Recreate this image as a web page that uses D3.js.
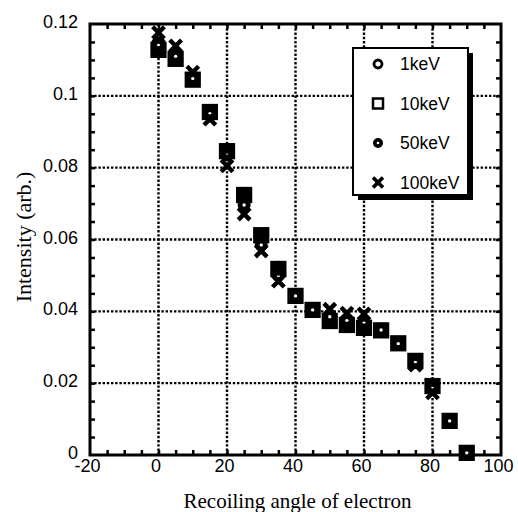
<!DOCTYPE html>
<html>
<head>
<meta charset="utf-8">
<script src="https://cdn.jsdelivr.net/npm/d3@7"></script>
<style>
  body { margin: 0; background: #fff; }
  .tick text { font-family: "Liberation Sans", Arial, sans-serif; font-size: 18px; fill: #000; }
  .title { font-family: "Liberation Serif", "Times New Roman", serif; fill: #000; }
  .leg { font-family: "Liberation Sans", Arial, sans-serif; font-size: 17.5px; fill: #000; }
</style>
</head>
<body>
<div id="chart"></div>
<script>
// recoil angle (deg)
const angles = [0, 5, 10, 15, 20, 25, 30, 35, 40, 45, 50, 55, 60, 65, 70, 75, 80, 85, 90];

// intensity per incident electron energy
const kev1   = [0.1145, 0.1110, 0.1050, 0.0955, 0.0843, 0.0722, 0.0610, 0.0520, 0.0443, 0.0404, 0.0385, 0.0372, 0.0365, 0.0348, 0.0311, 0.0262, 0.0192, 0.0095, 0.0006];
const kev10  = [0.1128, 0.1103, 0.1045, 0.0955, 0.0846, 0.0724, 0.0612, 0.0518, 0.0443, 0.0404, 0.0373, 0.0362, 0.0354, 0.0347, 0.0311, 0.0262, 0.0192, 0.0095, 0.0006];
const kev50  = [0.1140, 0.1110, 0.1048, 0.0950, 0.0835, 0.0696, 0.0585, 0.0500, 0.0443, 0.0404, 0.0385, 0.0375, 0.0370, 0.0348, 0.0310, 0.0258, 0.0185, 0.0095, 0.0006];
const kev100 = [0.1176, 0.1139, 0.1066, 0.0935, 0.0805, 0.0671, 0.0568, 0.0484, 0.0443, 0.0404, 0.0406, 0.0395, 0.0393, 0.0348, 0.0310, 0.0250, 0.0173, 0.0095, 0.0006];

const seriesNames = ["1keV", "10keV", "50keV", "100keV"];
const seriesShapes = ["circle", "square", "dotcircle", "cross"];

const xTicks = [-20, 0, 20, 40, 60, 80, 100];
const yTicks = [0, 0.02, 0.04, 0.06, 0.08, 0.1, 0.12];
const yTickLabels = ["0", "0.02", "0.04", "0.06", "0.08", "0.1", "0.12"];

const width = 518, height = 512;
const margin = {top: 24, right: 17, bottom: 57, left: 90};

const svg = d3.select("#chart").append("svg")
    .attr("width", width)
    .attr("height", height);

const x = d3.scaleLinear().domain([-20, 100]).range([margin.left, width - margin.right]);
const y = d3.scaleLinear().domain([0, 0.12]).range([height - margin.bottom, margin.top]);

//dotted grid at the inner major ticks
const grid = svg.append("g")
    .attr("stroke", "#000")
    .attr("stroke-width", 2.4)
    .attr("stroke-dasharray", "2.4,1.8");

grid.selectAll(".gx")
    .data(xTicks.slice(1, -1))
    .enter().append("line")
    .attr("x1", (d) => x(d)).attr("x2", (d) => x(d))
    .attr("y1", y(0)).attr("y2", y(0.12));

grid.selectAll(".gy")
    .data(yTicks.slice(1, -1))
    .enter().append("line")
    .attr("x1", x(-20)).attr("x2", x(100))
    .attr("y1", (d) => y(d)).attr("y2", (d) => y(d));

//minor ticks on all four sides, pointing inward
const xMinor = d3.range(-15, 100, 5);
const yMinor = d3.range(1, 24).map((i) => i * 0.005);

function minorAxis(axis, tr) {
    const g = svg.append("g")
        .attr("transform", tr)
        .call(axis.tickSize(-5).tickFormat(""));
    g.select(".domain").remove();
    g.selectAll(".tick line").attr("stroke", "#000").attr("stroke-width", 2.5);
}
minorAxis(d3.axisBottom(x).tickValues(xMinor), `translate(0,${y(0)})`);
minorAxis(d3.axisTop(x).tickValues(xMinor), `translate(0,${y(0.12)})`);
minorAxis(d3.axisLeft(y).tickValues(yMinor), `translate(${x(-20)},0)`);
minorAxis(d3.axisRight(y).tickValues(yMinor), `translate(${x(100)},0)`);

//labelled axes
const xAxis = svg.append("g")
    .attr("transform", `translate(0,${y(0)})`)
    .call(d3.axisBottom(x).tickValues(xTicks).tickSize(0).tickPadding(4).tickFormat((d) => String(d)));
xAxis.select(".domain").remove();
xAxis.selectAll(".tick text").attr("dx", "-3px");

const yAxis = svg.append("g")
    .attr("transform", `translate(${x(-20)},0)`)
    .call(d3.axisLeft(y).tickValues(yTicks).tickSize(0).tickPadding(12)
        .tickFormat((d, i) => yTickLabels[i]));
yAxis.select(".domain").remove();
yAxis.selectAll(".tick text").attr("dy", "0.2em");

//frame
svg.append("rect")
    .attr("x", x(-20)).attr("y", y(0.12))
    .attr("width", x(100) - x(-20)).attr("height", y(0) - y(0.12))
    .attr("fill", "none").attr("stroke", "#000").attr("stroke-width", 3);

//markers; data marks are drawn heavier than the legend ones
function drawMarker(g, shape, size, heavy) {
    const s = size;
    if (shape === "circle") {
        g.append("circle").attr("r", heavy ? s * 0.38 : s * 0.4)
            .attr("fill", "none").attr("stroke", "#000").attr("stroke-width", heavy ? s * 0.38 : s * 0.28);
    } else if (shape === "square") {
        g.append("rect").attr("x", -s / 2).attr("y", -s / 2).attr("width", s).attr("height", s)
            .attr("fill", heavy ? "#000" : "none").attr("stroke", "#000").attr("stroke-width", s * 0.25);
    } else if (shape === "dotcircle") {
        g.append("circle").attr("r", s * 0.5).attr("fill", "#000");
        g.append("circle").attr("r", s * 0.13).attr("fill", "#fff");
    } else {
        const h = s * 0.45;
        g.append("path").attr("d", `M${-h},${-h}L${h},${h}M${-h},${h}L${h},${-h}`)
            .attr("stroke", "#000").attr("stroke-width", s * 0.34).attr("fill", "none");
    }
}

const allSeries = [kev100, kev10, kev50, kev1];
const drawOrder = [3, 1, 2, 0];

const pts = svg.append("g");
drawOrder.forEach((si, k) => {
    const vals = allSeries[k];
    pts.selectAll(".s" + si)
        .data(angles.map((a, i) => ({a: a, v: vals[i]})))
        .enter().append("g")
        .attr("transform", (d) => `translate(${x(d.a)},${y(d.v)})`)
        .each(function () { drawMarker(d3.select(this), seriesShapes[si], 13, true); });
});

//legend with drop shadow
const lx = 353, ly = 48, lw = 115, lh = 147;
svg.append("rect").attr("x", lx + 5).attr("y", ly + 5).attr("width", lw).attr("height", lh).attr("fill", "#000");
svg.append("rect").attr("x", lx).attr("y", ly).attr("width", lw).attr("height", lh)
    .attr("fill", "#fff").attr("stroke", "#000").attr("stroke-width", 2);

const legend = svg.append("g");
seriesNames.forEach((name, i) => {
    const cy = 64 + i * 39.5;
    const g = legend.append("g").attr("transform", `translate(378,${cy})`);
    drawMarker(g, seriesShapes[i], i === 3 ? 11 : 10, false);
    legend.append("text").attr("class", "leg")
        .attr("x", 400).attr("y", cy + 6)
        .text(name);
});

//axis titles
svg.append("text").attr("class", "title")
    .attr("x", x(40) + 2).attr("y", 508)
    .attr("text-anchor", "middle")
    .style("font-size", "21px")
    .text("Recoiling angle of electron");

svg.append("text").attr("class", "title")
    .attr("transform", "translate(31,237) rotate(-90)")
    .attr("text-anchor", "middle")
    .style("font-size", "22px")
    .text("Intensity (arb.)");
</script>
</body>
</html>
